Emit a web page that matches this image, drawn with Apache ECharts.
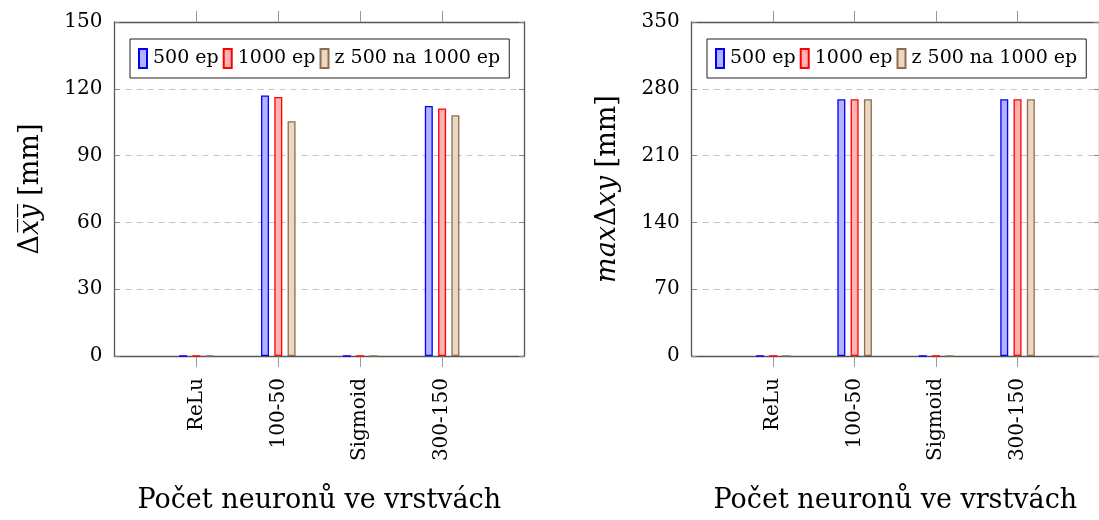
<!DOCTYPE html>
<html>
<head>
<meta charset="utf-8">
<script src="https://cdn.jsdelivr.net/npm/echarts@6/dist/echarts.min.js"></script>
<style>html,body{margin:0;padding:0;background:#fff}#c{width:1099px;height:520px}</style>
</head>
<body>
<div id="c"></div>
<script>
// categories (first and last are empty padding slots)
var categories = ['', 'ReLu', '100-50', 'Sigmoid', '300-150', ''];
var seriesNames = ['500 ep', '1000 ep', 'z 500 na 1000 ep'];
// left panel: mean error
var meanA = [null, 0, 117.0, 0, 112.3, null];
var meanB = [null, 0, 116.3, 0, 111.2, null];
var meanC = [null, 0, 105.4, 0, 108.1, null];
// right panel: max error
var maxA = [null, 0, 269, 0, 269, null];
var maxB = [null, 0, 269, 0, 269, null];
var maxC = [null, 0, 269, 0, 269, null];
var leftTicks = {min: 0, max: 150, interval: 30};
var rightTicks = {min: 0, max: 350, interval: 70};
var xTitle = 'Počet neuronů ve vrstvách';

var FONT = 'DejaVu Serif';
var colors = [
  {fill: '#b3b3ff', border: '#0000ff'},
  {fill: '#ffb3b3', border: '#ff0000'},
  {fill: '#ead8c5', border: '#8f6d4b'}
];
var showIdx = function (i) { return i >= 1 && i <= 4; };

function xAxes(gi) {
  return [{
    type: 'category', gridIndex: gi, data: categories, boundaryGap: false, position: 'bottom',
    axisLine: {show: true, onZero: false, lineStyle: {color: '#555', width: 1.3}},
    axisTick: {show: true, inside: false, length: 11, interval: showIdx, lineStyle: {color: '#999', width: 1}},
    axisLabel: {show: true, interval: showIdx, rotate: 90, margin: 22, fontFamily: FONT, fontSize: 20, color: '#000'},
    splitLine: {show: false},
    name: xTitle, nameLocation: 'middle', nameGap: 131,
    nameTextStyle: {fontFamily: FONT, fontSize: 27, color: '#000'}
  }, {
    type: 'category', gridIndex: gi, data: categories, boundaryGap: false, position: 'top',
    axisLine: {show: true, onZero: false, lineStyle: {color: '#555', width: 1.3}},
    axisTick: {show: true, inside: false, length: 11, interval: showIdx, lineStyle: {color: '#999', width: 1}},
    axisLabel: {show: false}, splitLine: {show: false}
  }];
}
function yAxes(gi, t, nameRich) {
  return [{
    type: 'value', gridIndex: gi, position: 'left', min: t.min, max: t.max, interval: t.interval,
    axisLine: {show: true, onZero: false, lineStyle: {color: '#555', width: 1.3}},
    axisTick: {show: true, inside: true, length: 5, lineStyle: {color: '#888'}},
    axisLabel: {margin: 12, fontFamily: FONT, fontSize: 20, color: '#000'},
    splitLine: {show: true, lineStyle: {color: '#c4c4c4', type: [6, 5], width: 1}},
    name: nameRich, nameLocation: 'middle', nameGap: 70, nameRotate: 90,
    nameTextStyle: {
      fontFamily: FONT, fontSize: 27, color: '#000',
      rich: {
        d: {fontFamily: FONT, fontSize: 27, color: '#000'},
        i: {fontFamily: FONT, fontSize: 27, fontStyle: 'italic', color: '#000'}
      }
    }
  }, {
    type: 'value', gridIndex: gi, position: 'right', min: t.min, max: t.max, interval: t.interval,
    axisLine: {show: true, onZero: false, lineStyle: {color: '#555', width: 1.3}},
    axisTick: {show: true, inside: true, length: 5, lineStyle: {color: '#888'}},
    axisLabel: {show: false}, splitLine: {show: false}
  }];
}
function bars(gi, arrs) {
  return arrs.map(function (d, k) {
    return {
      type: 'bar', name: seriesNames[k], xAxisIndex: gi * 2, yAxisIndex: gi * 2, data: d,
      barWidth: 8, barGap: '66%',
      itemStyle: {color: colors[k].fill, borderColor: colors[k].border, borderWidth: 1.3},
      emphasis: {disabled: true}
    };
  });
}
function legend(left) {
  return {
    left: left, top: 39,
    data: seriesNames.map(function (n) { return {name: n}; }),
    orient: 'horizontal', icon: 'rect', itemWidth: 8, itemHeight: 19, itemGap: 4,
    padding: [9, 9, 9, 8], borderColor: '#222', borderWidth: 1, backgroundColor: '#fff',
    selectedMode: false,
    textStyle: {fontFamily: FONT, fontSize: 19, color: '#000', padding: [0, 0, 0, 1]}
  };
}
var chart = echarts.init(document.getElementById('c'), null, {renderer: 'canvas'});
var xa = xAxes(0).concat(xAxes(1));
var ya = yAxes(0, leftTicks, '{d|Δ}{i|x\u0305y\u0305}{d| [mm]}').concat(yAxes(1, rightTicks, '{i|max}{d|Δ}{i|xy}{d| [mm]}'));
chart.setOption({
  animation: false,
  backgroundColor: '#fff',
  grid: [
    {left: 114.5, top: 22, width: 409.5, height: 334},
    {left: 691.7, top: 22, width: 409.5, height: 334}
  ],
  legend: [legend(130), legend(707)],
  xAxis: xa,
  yAxis: ya,
  series: bars(0, [meanA, meanB, meanC]).concat(bars(1, [maxA, maxB, maxC]))
});
</script>
</body>
</html>
